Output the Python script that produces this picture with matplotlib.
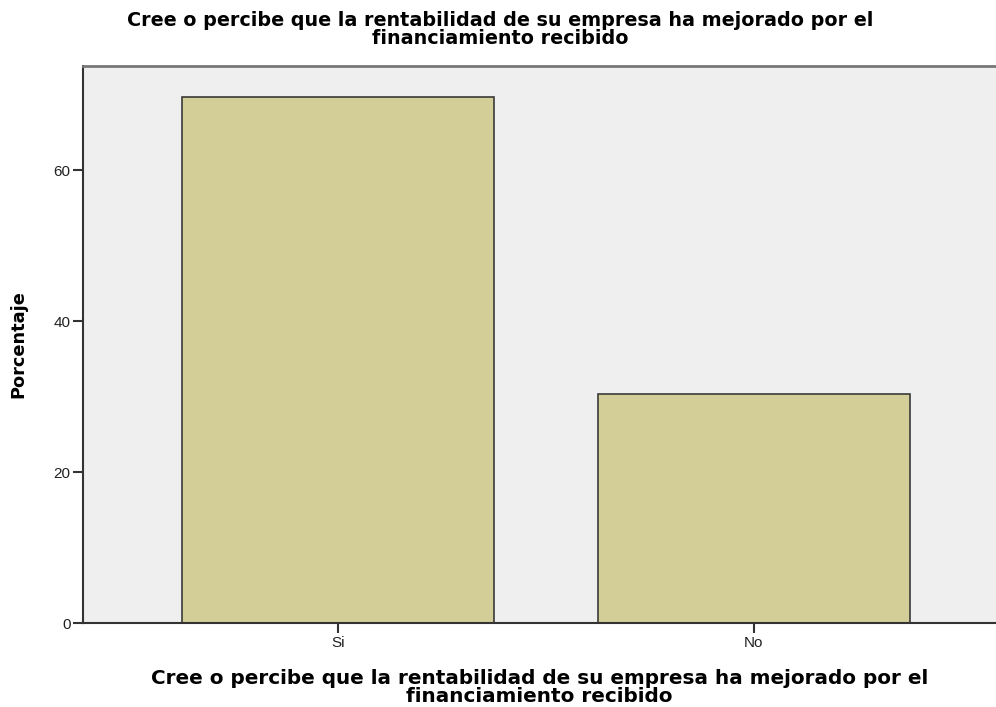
import matplotlib
matplotlib.use('Agg')
import matplotlib.pyplot as plt

categories = ['Si', 'No']
porcentaje = [69.7, 30.3]
yticks = [0, 20, 40, 60]
titulo = 'Cree o percibe que la rentabilidad de su empresa ha mejorado por el\nfinanciamiento recibido'

plt.rcParams['font.family'] = ['Liberation Sans', 'DejaVu Sans']

fig = plt.figure(figsize=(9.96, 7.07), dpi=100)
ax = fig.add_axes([0.0833, 0.1188, 0.9167, 0.7878])
ax.set_facecolor('#efefef')

x = list(range(len(categories)))
ax.bar(x, porcentaje, width=0.75, color='#d3ce97', edgecolor='#3a3a3a', linewidth=1.2, zorder=2)

ax.set_xlim(-0.613, 1.582)
ax.set_ylim(0, 73.8)
ax.set_xticks(x)
ax.set_xticklabels(categories)
ax.set_yticks(yticks)
ax.tick_params(axis='both', direction='out', length=7, width=1.5, color='#333333',
               labelsize=11, labelcolor='#222222', pad=2)

for side in ['left', 'bottom']:
    ax.spines[side].set_color('#333333')
    ax.spines[side].set_linewidth(1.5)
ax.spines['top'].set_color('#777777')
ax.spines['top'].set_linewidth(2)
ax.spines['right'].set_visible(False)

bold = dict(family='DejaVu Sans', fontweight='bold')
ax.set_ylabel('Porcentaje', fontsize=12.8, labelpad=19, **bold)
ax.set_xlabel(titulo, fontsize=14.4, linespacing=0.92, labelpad=14, **bold)
fig.text(0.502, 1 - 11 / 707, titulo, ha='center', va='top', fontsize=13.8,
         linespacing=0.95, **bold)

plt.savefig('out.png', dpi=100)
